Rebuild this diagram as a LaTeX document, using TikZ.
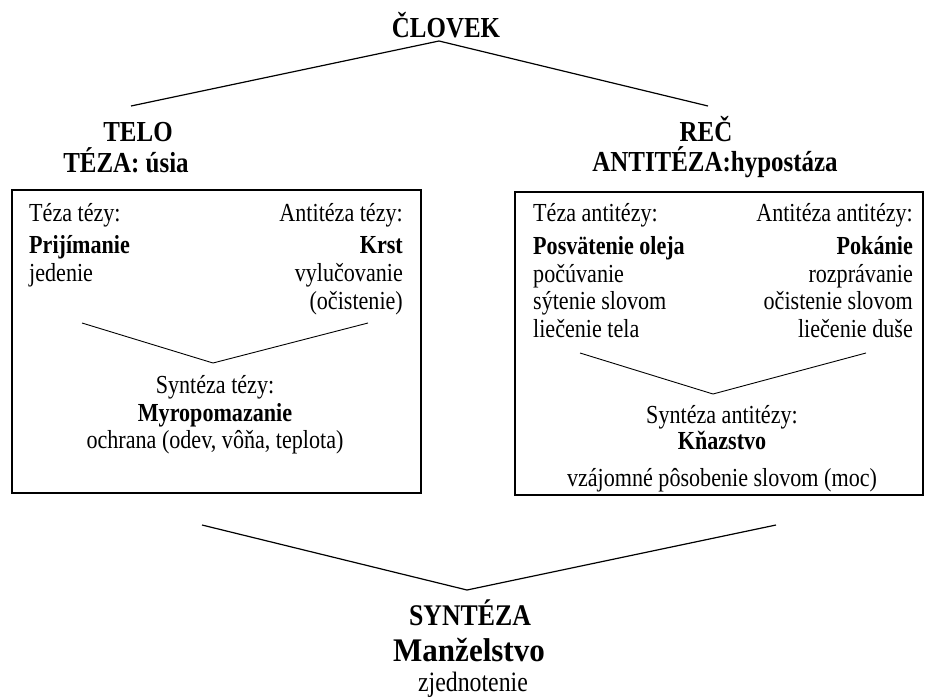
\documentclass[tikz,border=0pt]{standalone}
\usepackage{fontspec}
\setmainfont[FakeStretch=0.85]{Liberation Serif}
\newfontfamily\headfont[FakeStretch=0.86]{Liberation Serif}
\newfontfamily\wideheadfont[FakeStretch=0.94]{Liberation Serif}
\usetikzlibrary{positioning}

\begin{document}
\begin{tikzpicture}[
    x=1pt, y=-1pt,
    head/.style={
        inner sep=0pt,
        font=\headfont\bfseries\fontsize{29}{32}\selectfont
    },
    bighead/.style={
        inner sep=0pt,
        font=\headfont\bfseries\fontsize{30}{34}\selectfont
    },
    widehead/.style={
        inner sep=0pt,
        font=\wideheadfont\bfseries\fontsize{33}{36}\selectfont
    },
    body/.style={
        inner sep=0pt,
        font=\fontsize{26}{28}\selectfont
    },
    bodyb/.style={
        inner sep=0pt,
        font=\bfseries\fontsize{26}{28}\selectfont
    },
    frame/.style={
        draw,
        line width=2pt,
        minimum width=#1,
        minimum height=303pt,
        inner sep=0pt
    },
    link/.style={line width=1.2pt},
    vlink/.style={line width=0.9pt}
]
\useasboundingbox (0,0) rectangle (926,699);

% Top - man
\node[head, anchor=base] (clovek) at (446,37) {ČLOVEK};

% Left - body / thesis
\node[head, anchor=base] (telo) at (138,141) {TELO};
\node[head, anchor=base] (teza) at (126,172) {TÉZA: úsia};

% Right - word / antithesis
\node[head, anchor=base] (rec) at (706,141) {REČ};
\node[head, anchor=base] (antiteza) at (715,171) {ANTITÉZA:hypostáza};

\coordinate (topapex) at (439,41);
\coordinate (topleft) at (131,106);
\coordinate (topright) at (708,106);
\draw[link] (topleft) -- (topapex) -- (topright);

% Left box
\node[frame=409pt] (telobox) at (216.5,341.5) {};
\node[body, anchor=base west] (tt) at (29,221) {Téza tézy:};
\node[body, anchor=base east] (at) at (403,221) {Antitéza tézy:};
\node[bodyb, anchor=base west] (prij) at (29,253) {Prijímanie};
\node[body, anchor=base west] (jed) at (29,281) {jedenie};
\node[bodyb, anchor=base east] (krst) at (403,253) {Krst};
\node[body, anchor=base east] (vyl) at (403,281) {vylučovanie};
\node[body, anchor=base east] (oci) at (403,309) {(očistenie)};
\node[body, anchor=base] (st) at (215,393) {Syntéza tézy:};
\node[bodyb, anchor=base] (myro) at (215,421) {Myropomazanie};
\node[body, anchor=base] (ochr) at (215,448) {ochrana (odev, vôňa, teplota)};

\coordinate (lva) at (82,323);
\coordinate (lvapex) at (213,363);
\coordinate (lvb) at (368,323);
\draw[vlink] (lva) -- (lvapex) -- (lvb);

% Right box
\node[frame=408pt] (recbox) at (719,343.5) {};
\node[body, anchor=base west] (ta) at (533,221) {Téza antitézy:};
\node[body, anchor=base east] (aa) at (913,221) {Antitéza antitézy:};
\node[bodyb, anchor=base west] (posv) at (533,254) {Posvätenie oleja};
\node[body, anchor=base west] (pocu) at (533,282) {počúvanie};
\node[body, anchor=base west] (syte) at (533,309) {sýtenie slovom};
\node[body, anchor=base west] (liet) at (533,337) {liečenie tela};
\node[bodyb, anchor=base east] (poka) at (913,254) {Pokánie};
\node[body, anchor=base east] (rozp) at (913,282) {rozprávanie};
\node[body, anchor=base east] (ocis) at (913,309) {očistenie slovom};
\node[body, anchor=base east] (lied) at (913,337) {liečenie duše};
\node[body, anchor=base] (sa) at (722,423) {Syntéza antitézy:};
\node[bodyb, anchor=base] (knaz) at (722,449) {Kňazstvo};
\node[body, anchor=base] (vzaj) at (722,486) {vzájomné pôsobenie slovom (moc)};

\coordinate (rva) at (580,353);
\coordinate (rvapex) at (713,394);
\coordinate (rvb) at (866,353);
\draw[vlink] (rva) -- (rvapex) -- (rvb);

% Bottom - synthesis
\coordinate (bva) at (202,525);
\coordinate (bvapex) at (467,590);
\coordinate (bvb) at (776,525);
\draw[link] (bva) -- (bvapex) -- (bvb);

\node[bighead, anchor=base] (synteza) at (470,625) {SYNTÉZA};
\node[widehead, anchor=base] (manz) at (469,661) {Manželstvo};
\node[body, font=\fontsize{28}{30}\selectfont, anchor=base] (zjed) at (473,691) {zjednotenie};

\end{tikzpicture}
\end{document}
